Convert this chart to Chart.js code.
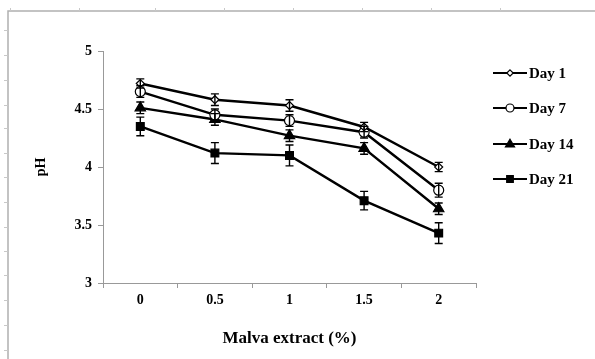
<!DOCTYPE html>
<html><head><meta charset="utf-8">
<script src="https://cdn.jsdelivr.net/npm/chart.js@4.4.1/dist/chart.umd.min.js"></script>
<style>html,body{margin:0;padding:0;background:#fff}#wrap{width:595px;height:359px;position:relative}</style>
</head><body><div id="wrap"><canvas id="c" width="595" height="359"></canvas></div>
<script>
const categories = ['0', '0.5', '1', '1.5', '2'];
const day1 = [4.72, 4.58, 4.53, 4.345, 4.00];
const day7 = [4.65, 4.45, 4.40, 4.30, 3.80];
const day14 = [4.51, 4.41, 4.27, 4.16, 3.64];
const day21 = [4.35, 4.12, 4.10, 3.71, 3.43];
const err1 = [0.04, 0.05, 0.05, 0.04, 0.04];
const err7 = [0.05, 0.05, 0.05, 0.05, 0.06];
const err14 = [0.05, 0.05, 0.05, 0.05, 0.05];
const err21 = [0.08, 0.09, 0.09, 0.08, 0.09];
const seriesNames = ['Day 1', 'Day 7', 'Day 14', 'Day 21'];
const yTicks = [3, 3.5, 4, 4.5, 5];

const FONT = "'Liberation Serif', 'Times New Roman', serif";

function drawMarker(ctx, style, x, y, r, fill) {
  ctx.save();
  ctx.beginPath();
  if (style === 'rectRot') {
    ctx.moveTo(x, y - r); ctx.lineTo(x + r, y); ctx.lineTo(x, y + r); ctx.lineTo(x - r, y); ctx.closePath();
  } else if (style === 'circle') {
    ctx.arc(x, y, r, 0, Math.PI * 2);
  } else if (style === 'triangle') {
    ctx.moveTo(x, y - r); ctx.lineTo(x + r * 0.95, y + r * 0.6); ctx.lineTo(x - r * 0.95, y + r * 0.6); ctx.closePath();
  } else {
    ctx.rect(x - r * 0.75, y - r * 0.75, r * 1.5, r * 1.5);
  }
  ctx.fillStyle = fill; ctx.fill();
  ctx.strokeStyle = '#000'; ctx.lineWidth = 1.2; ctx.stroke();
  ctx.restore();
}

const errs = [err1, err7, err14, err21];

const framePlugin = {
  id: 'frame',
  beforeDraw(chart) {
    const ctx = chart.ctx;
    ctx.save();
    ctx.strokeStyle = '#b0b0b0';
    ctx.lineWidth = 1.5;
    ctx.beginPath();
    ctx.moveTo(8, 359); ctx.lineTo(8, 11); ctx.lineTo(595, 11);
    ctx.stroke();
    ctx.lineWidth = 1;
    ctx.strokeStyle = '#c8c8c8';
    [10, 79, 155, 224, 293, 362, 431, 500].forEach(x => { ctx.beginPath(); ctx.moveTo(x + 0.5, 8); ctx.lineTo(x + 0.5, 11); ctx.stroke(); });
    [30, 55, 80, 105, 128, 153, 177, 202, 227, 251, 275, 300, 325, 350].forEach(y => { ctx.beginPath(); ctx.moveTo(4, y + 0.5); ctx.lineTo(8, y + 0.5); ctx.stroke(); });
    ctx.restore();
  }
};

const errorPlugin = {
  id: 'errbars',
  afterDatasetsDraw(chart) {
    const ctx = chart.ctx;
    const ys = chart.scales.y;
    ctx.save();
    ctx.strokeStyle = '#000';
    ctx.lineWidth = 1.4;
    chart.data.datasets.forEach((ds, di) => {
      const meta = chart.getDatasetMeta(di);
      meta.data.forEach((pt, i) => {
        const v = ds.data[i], e = errs[di][i];
        const yt = ys.getPixelForValue(v + e), yb = ys.getPixelForValue(v - e);
        const x = pt.x;
        ctx.beginPath();
        ctx.moveTo(x, yt); ctx.lineTo(x, yb);
        ctx.moveTo(x - 4, yt); ctx.lineTo(x + 4, yt);
        ctx.moveTo(x - 4, yb); ctx.lineTo(x + 4, yb);
        ctx.stroke();
      });
    });
    ctx.restore();
  }
};

const legendPlugin = {
  id: 'customLegend',
  afterDraw(chart) {
    const ctx = chart.ctx;
    ctx.save();
    const x0 = 493, x1 = 527;
    const rows = [73, 108, 144, 179];
    chart.data.datasets.forEach((ds, i) => {
      const y = rows[i];
      ctx.strokeStyle = '#000'; ctx.lineWidth = 2.2;
      ctx.beginPath(); ctx.moveTo(x0, y); ctx.lineTo(x1, y); ctx.stroke();
      drawMarker(ctx, ds.pointStyle, (x0 + x1) / 2, y, ds.pointRadius * 0.8, ds.pointBackgroundColor);
      ctx.fillStyle = '#000';
      ctx.font = "bold 15px " + FONT;
      ctx.textBaseline = 'middle';
      ctx.textAlign = 'left';
      ctx.fillText(ds.label, x1 + 2, y + 1);
    });
    ctx.restore();
  }
};

function mk(label, data, style, r, fill) {
  return {
    label, data,
    borderColor: '#000', borderWidth: 2.4,
    pointStyle: style, pointRadius: r, pointHoverRadius: r,
    pointBackgroundColor: fill, pointBorderColor: '#000', pointBorderWidth: 1.2,
    tension: 0, fill: false
  };
}

new Chart(document.getElementById('c'), {
  type: 'line',
  data: {
    labels: categories,
    datasets: [
      mk(seriesNames[0], day1, 'rectRot', 4, '#fff'),
      mk(seriesNames[1], day7, 'circle', 5, '#fff'),
      mk(seriesNames[2], day14, 'triangle', 6, '#000'),
      mk(seriesNames[3], day21, 'rect', 5.5, '#000')
    ]
  },
  options: {
    responsive: false,
    animation: false,
    events: [],
    layout: { padding: { left: 0, top: 51, right: 119, bottom: 0 } },
    plugins: { legend: { display: false }, tooltip: { enabled: false } },
    scales: {
      x: {
        type: 'category',
        offset: true,
        grid: { display: true, drawOnChartArea: false, drawTicks: true, tickLength: 5, color: '#999', offset: true },
        border: { display: true, color: '#999', width: 1 },
        ticks: { color: '#000', font: { family: FONT, weight: 'bold', size: 14 }, padding: 4, maxRotation: 0 },
        title: { display: true, text: 'Malva extract (%)', color: '#000', font: { family: FONT, weight: 'bold', size: 17 }, padding: { top: 0, bottom: 10 } },
        afterFit(s) { s.height = 359 - 283; }
      },
      y: {
        min: 3, max: 5,
        afterBuildTicks(s) { s.ticks = yTicks.map(v => ({ value: v })); },
        grid: { display: true, drawOnChartArea: false, drawTicks: true, tickLength: 5, color: '#999' },
        border: { display: true, color: '#999', width: 1 },
        ticks: { color: '#000', font: { family: FONT, weight: 'bold', size: 14 }, padding: 6, callback: v => String(v) },
        title: { display: true, text: 'pH', color: '#000', font: { family: FONT, weight: 'bold', size: 14 }, padding: { top: 33, bottom: 0 } },
        afterFit(s) { s.width = 103; }
      }
    }
  },
  plugins: [framePlugin, errorPlugin, legendPlugin]
});
</script>
</body></html>
